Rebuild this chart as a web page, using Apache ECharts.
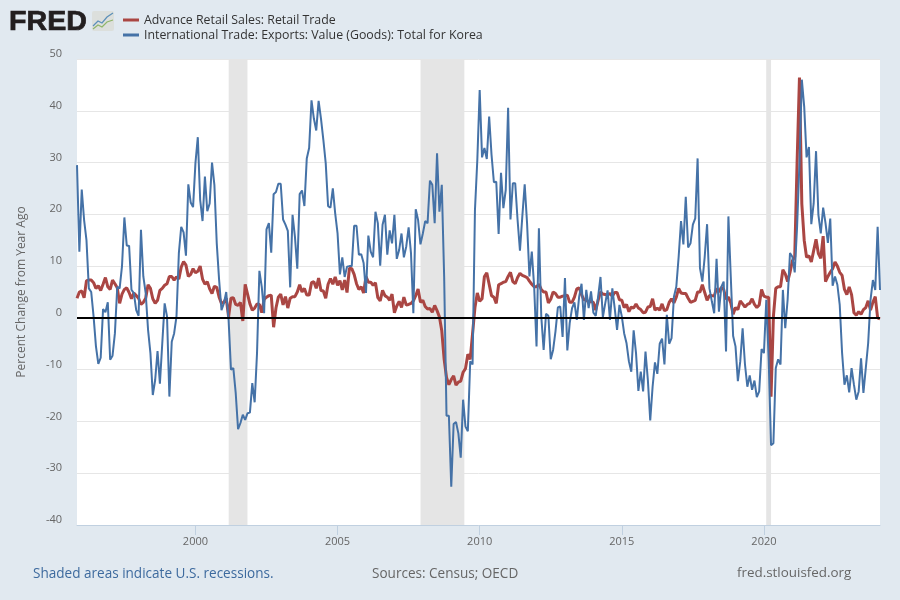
<!DOCTYPE html>
<html>
<head>
<meta charset="utf-8">
<style>html,body{margin:0;padding:0;background:#e1e9f0}#c{width:900px;height:600px}</style>
<script src="https://cdn.jsdelivr.net/npm/echarts@6/dist/echarts.min.js"></script>
</head>
<body>
<div id="c"></div>
<script>
var retail1 = [3.8,5,5.2,3.9,7.2,7.3,7.3,6.8,5.7,6.2,5.3,6.5,7.8,6,5.5,7.3,6.6,5.8,2.8,4.6,5.5,5.8,4.9,3.7,4.8,4.3,3.8,2.6,3,3.8,6.4,5.7,3.7,2.8,3.4,5.3,5.7,6.3,6.6,8,8,7.3,7.9,7.5,9.8,10.9,10.2,8,8.4,9.5,8.7,9,10,7.5,6.5,7,5.6,4.7,6.1,5.9,4,2.8,3,3.8,0.2,3.8,3.9,2.6,2.4,3,-0.6,6.5,4.6,2.7,1.5,1.9,2.7,2.6,1,3.6,4,4.3,4.4,-1.8,1.9,4];
var retail2 = [4.6,2.5,4.1,1.9,3.8,4.1,4.1,5,6.4,5,5.7,4.4,4.4,6.8,7,5.7,7.7,5.3,5.2,3.8,6.5,7.6,6.5,7.9,6.3,7.2,5.4,7.3,4.9,9.6,9.5,8.4,6.6,5.5,6,4.8,8,6.9,6.9,6.3,6.8,3.9,3.3,5.3,4.3,4,3.4,4.6,1,2.3,3.2,2,4,2.5,2.6,2.8,3.3,4.3,5.6,3,3.4,2.2,1.7,1.8,1.1,2.4,1.4,0.2,-2.5,-8,-11.5,-12.9,-11.9,-11.2,-13,-12.4,-12.2,-10.5,-9.8,-7,-8,-3,2,4.8,3.2];
var retail3 = [3.7,8,8.7,6.5,4.3,4,2.8,6.4,6.6,6.9,7,8,8.8,7,6.6,7.8,8.6,8.2,8,7.8,7.1,6.5,6,6,6.5,5.5,5,5,2.9,3.6,5,4.7,4,4,4.2,4.3,4.4,3,3,4,5.6,5.8,4.5,3.5,3.5,3,3.2,3,1.5,3.4,5,4.6,4.5,4.4,4.7,4.2,4.9,4.9,3.5,3.4,2,2.6,1.2,2.1,1.9,2.7,1.9,1.6,1,1.1,2.1,2.2,3.7,1.5,1.9,1.5,2.7,1.4,1.6,3,3.7,2.9,4,5.7];
var retail4 = [4.8,4.7,4.7,3.8,3,3.2,3.4,5,5,6.4,4.9,3.4,4.3,4.3,4.2,5.7,5,5.9,5.5,3.6,4,2.9,0.7,2,1.6,3.3,2.7,2.1,2.6,2.8,3.7,2.6,2,2.5,5.5,4.2,4,4,-15.2,0.3,5.7,6,6,9.3,8.5,7,8.8,11,11.8,30,46.4,22,15,11.7,12,10.8,13,15.2,12.4,11.5,15.8,7,8,8.8,9.5,10.8,10,8.8,8.2,5.5,4.5,6,4.5,1,0.5,1.2,0.7,1.6,2,3.3,1.5,3,4.1,0,-0.2];
var exports1 = [29.5,12.8,24.8,18.9,15,5.7,5,0.3,-5.5,-8.9,-7.7,1.7,1.1,3,-8.1,-7.3,-3,6,5.7,10,19.4,14,13.9,5.4,4.8,1.5,0.4,17,8,4.8,-2.3,-6.8,-14.9,-12,-6.4,-12.7,-4.9,2.8,0.3,-15.2,-4.6,-3,0.3,12.5,17.6,16.5,12,25.8,22.3,21.4,29.9,34.9,22.8,18.7,27.3,20.6,22.1,30,25.7,14.4,7.3,1.5,2.8,5,-0.4,-10,-9.7,-14.5,-21.5,-20.3,-18.7,-19.7,-18.4,-18.3,-12.6,-16.3,-6.8,9.1,6,0.9,17.1,18.3,12.6,23.9,24.3,25.9];
var exports2 = [25.9,19,18,16.8,5.9,19.9,15.7,9.5,23.9,24.6,21.6,30.8,32.8,42,38.5,36.2,41.9,38.5,34.4,29.9,21.6,21.3,25,20.2,16.3,8.4,11.7,7.9,9.9,10,10,17.8,17.8,12.2,12.3,10.6,4.8,15.9,12.8,11.7,20.5,18.3,10.1,18,19.9,12.2,16.9,14.4,19.9,11.4,13.1,16.3,11.7,13.8,17.5,12.5,0.9,21,18.9,14.2,16.3,18.7,18.3,26.5,25.7,18.3,31.8,20.5,25.7,8,-18.9,-18.9,-32.6,-20.5,-20.1,-22.3,-27,-15.8,-21,-21.9,-8.4,-9,20.8,30.5,44];
var exports3 = [31,32.8,30.7,38.9,31.5,26.2,26.3,16.2,28,21.2,24.7,40.6,19,26,26,18.9,13,19.6,25.8,18.3,8,12.8,6,-5.5,17.3,0.3,-6.2,0.8,0.4,-8,-6.2,-2.6,2,2.2,-3.7,7.7,-6.3,-1,1.9,3,-0.4,4.1,6.6,-0.4,5.4,1.9,5.1,1,0.4,4.1,7.9,0.1,2.8,5.3,-0.4,5.7,1.9,-2.3,2.5,0.3,-3,-4.9,-8.4,-10.4,-2.4,-6.8,-14.1,-10.4,-14.2,-6.5,-12,-19.8,-13.3,-8.6,-10.8,-5,-4,-9,0.6,-5];
var exports4 = [-3.9,4.1,6,11.8,18.7,14.2,23.4,13.6,14.4,18,19.2,30.8,9.6,7,11.8,18.1,5.7,3.2,0.9,11.4,1.2,6,7,-6.5,19.6,8,-3.5,-5.5,-12.2,-8.4,-2,-9,-13.3,-11.1,-13.9,-12.1,-15.3,-14.2,-6,-6.8,3.5,-8,-24.6,-24.2,-9.7,-8,-9,5.4,-2,3.5,12.5,11.8,8.8,17.6,30,46,40.8,31,33,18.1,22.1,32.2,19.9,16.3,21.3,18.3,14.5,19.2,6.2,8,6.4,2.5,-6.8,-12.9,-11.1,-14.4,-9.7,-12.9,-15.8,-14.2,-7.8,-14.5,-9.7,-4.9,3.5,7.3,5.4,17.6,5.4];
var tickYears = [2000,2005,2010,2015,2020];
var recessions = [[2001.17,2001.83],[2007.92,2009.46],[2020.08,2020.25]];
var retailName = 'Advance Retail Sales: Retail Trade';
var exportsName = 'International Trade: Exports: Value (Goods): Total for Korea';
var firstMonth = 1995 + 10/12;

var retail = retail1.concat(retail2, retail3, retail4);
var exportsKr = exports1.concat(exports2, exports3, exports4);
function at(i){ return firstMonth + i/12; }
function pairs(a){ return a.map(function(v,i){ return [at(i), v]; }); }
var font = '"Open Sans"';
var chart = echarts.init(document.getElementById('c'), null, {renderer:'canvas'});
chart.setOption({
  animation:false,
  backgroundColor:'#e1e9f0',
  textStyle:{fontFamily:font},
  grid:{left:77,right:20,top:59,bottom:75,show:true,backgroundColor:'#ffffff',borderWidth:0,containLabel:false},
  legend:{orient:'vertical',left:123,top:14,padding:0,itemGap:3,itemWidth:16,itemHeight:3,icon:'rect',selectedMode:false,
    textStyle:{color:'#333333',fontSize:12.35,fontFamily:font},data:[retailName,exportsName]},
  xAxis:{type:'value',min:at(0),max:at(339),
    axisLine:{show:true,onZero:false,lineStyle:{color:'#c0d0e0',width:1}},
    axisTick:{show:true,length:10,lineStyle:{color:'#c0d0e0'},customValues:tickYears},
    splitLine:{show:false},
    axisLabel:{color:'#666666',fontSize:11,margin:11,hideOverlap:false,
      customValues:tickYears,formatter:function(v){return String(Math.round(v));}}},
  yAxis:{type:'value',min:-40,max:50,interval:10,
    name:'Percent Change from Year Ago',nameLocation:'middle',nameGap:49,nameTextStyle:{color:'#666666',fontSize:12},
    axisLine:{show:false},axisTick:{show:false},
    splitLine:{show:true,lineStyle:{color:'#e6e6e6',width:1}},
    axisLabel:{color:'#666666',fontSize:11,margin:15,verticalAlign:'bottom',lineHeight:10}},
  series:[
   {name:retailName,type:'line',z:3,data:pairs(retail),showSymbol:false,symbol:'none',smooth:false,
    lineStyle:{color:'#aa4643',width:3},itemStyle:{color:'#aa4643'},
    markArea:{silent:true,z:1,itemStyle:{color:'#e5e5e5'},
      data:recessions.map(function(r){return [{xAxis:r[0]},{xAxis:r[1]}];})}},
   {name:exportsName,type:'line',z:4,data:pairs(exportsKr),showSymbol:false,symbol:'none',smooth:false,
    lineStyle:{color:'#4572a7',width:2},itemStyle:{color:'#4572a7'},
    markLine:{silent:true,symbol:'none',z:10,label:{show:false},lineStyle:{color:'#000000',width:2,type:'solid'},data:[{yAxis:0}]}}
  ],
  graphic:[
   {type:'text',x:9,y:9,scaleX:1.06,style:{text:'FRED',fill:'#231f20',stroke:'#231f20',lineWidth:0.7,font:'bold 27px "Liberation Sans"'}},
   {type:'group',x:92,y:11,children:[
     {type:'rect',shape:{x:0,y:0,width:22,height:20,r:2},style:{fill:'#dcdfdc'}},
     {type:'polyline',shape:{points:[[1,15],[6,10],[10,12],[15,6],[21,2]]},style:{stroke:'#5b8fb9',fill:null,lineWidth:1.2}},
     {type:'polyline',shape:{points:[[1,18],[6,14],[10,16],[15,11],[21,9]]},style:{stroke:'#8fb56a',fill:null,lineWidth:1.2}}
   ]},
   {type:'text',left:33,top:567,style:{text:'Shaded areas indicate U.S. recessions.',fill:'#3d6a9e',font:'13.55px '+font}},
   {type:'text',left:372,top:567,style:{text:'Sources: Census; OECD',fill:'#666666',font:'13.55px '+font}},
   {type:'text',left:737,top:567,style:{text:'fred.stlouisfed.org',fill:'#666666',font:'13.4px '+font}}
  ]
});
</script>
</body>
</html>
